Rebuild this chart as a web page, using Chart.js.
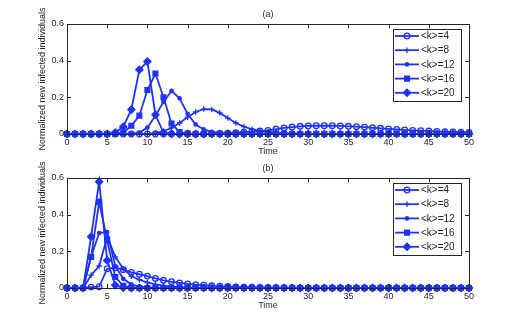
<!DOCTYPE html>
<html>
<head>
<meta charset="utf-8">
<script src="https://cdn.jsdelivr.net/npm/chart.js@4.4.0/dist/chart.umd.min.js"></script>
<style>
  html, body { margin: 0; padding: 0; background: #fff; }
  .panel { position: absolute; left: 0; width: 518px; height: 162px; }
  #panelA { top: 0; }
  #panelB { top: 154px; }
</style>
</head>
<body>
<div class="panel" id="panelA"><canvas id="chartA"></canvas></div>
<div class="panel" id="panelB"><canvas id="chartB"></canvas></div>
<script>
// time axis (x values)
const timeSteps = [0,1,2,3,4,5,6,7,8,9,10,11,12,13,14,15,16,17,18,19,20,21,22,23,24,25,
  26,27,28,29,30,31,32,33,34,35,36,37,38,39,40,41,42,43,44,45,46,47,48,49,50];
const xTickValues = [0,5,10,15,20,25,30,35,40,45,50];
const yTickValues = [0,0.2,0.4,0.6];
const seriesLabels = ['<k>=4', '<k>=8', '<k>=12', '<k>=16', '<k>=20'];

// panel (a)
const a_k4 = [0,0,0,0,0,0,0,0,0,0, 0,0,0,0,0,0,0,0,0.002,0.003,
  0.005,0.007,0.01,0.013,0.016,0.02,0.027,0.033,0.038,0.042,
  0.044,0.045,0.045,0.045,0.044,0.042,0.04,0.037,0.034,0.031,
  0.028,0.025,0.022,0.02,0.018,0.016,0.014,0.012,0.011,0.01, 0.009];
const a_k8 = [0,0,0,0,0,0,0,0,0,0, 0,0.005,0.015,0.033,0.06,0.092,0.12,0.136,0.134,0.115,
  0.087,0.06,0.04,0.026,0.017,0.011,0.007,0.004,0.003,0.002,
  0.001,0,0,0,0,0,0,0,0,0, 0,0,0,0,0,0,0,0,0,0, 0];
const a_k12 = [0,0,0,0,0,0,0,0,0,0.008, 0.035,0.1,0.175,0.235,0.195,0.11,0.052,0.025,0.012,0.006,
  0.003,0.001,0,0,0,0,0,0,0,0, 0,0,0,0,0,0,0,0,0,0, 0,0,0,0,0,0,0,0,0,0, 0];
const a_k16 = [0,0,0,0,0,0,0,0.008,0.045,0.1, 0.24,0.33,0.2,0.057,0.01,0.002,0,0,0,0,
  0,0,0,0,0,0,0,0,0,0, 0,0,0,0,0,0,0,0,0,0, 0,0,0,0,0,0,0,0,0,0, 0];
const a_k20 = [0,0,0,0,0,0,0.008,0.04,0.133,0.35, 0.395,0.105,0.007,0.001,0,0,0,0,0,0,
  0,0,0,0,0,0,0,0,0,0, 0,0,0,0,0,0,0,0,0,0, 0,0,0,0,0,0,0,0,0,0, 0];

// panel (b)
const b_k4 = [0,0,0,0.005,0.007,0.105,0.11,0.1,0.085,0.075, 0.065,0.052,0.042,0.034,0.028,0.022,0.018,0.015,0.012,0.01,
  0.008,0.006,0.005,0.004,0.003,0.002,0.002,0.001,0.001,0, 0,0,0,0,0,0,0,0,0,0, 0,0,0,0,0,0,0,0,0,0, 0];
const b_k8 = [0,0,0,0.07,0.12,0.28,0.17,0.105,0.065,0.045, 0.03,0.02,0.013,0.008,0.005,0.003,0.002,0.001,0,0,
  0,0,0,0,0,0,0,0,0,0, 0,0,0,0,0,0,0,0,0,0, 0,0,0,0,0,0,0,0,0,0, 0];
const b_k12 = [0,0,0,0.17,0.3,0.305,0.12,0.05,0.02,0.008, 0.003,0.001,0,0,0,0,0,0,0,0,
  0,0,0,0,0,0,0,0,0,0, 0,0,0,0,0,0,0,0,0,0, 0,0,0,0,0,0,0,0,0,0, 0];
const b_k16 = [0,0,0,0.17,0.47,0.26,0.06,0.012,0.002,0, 0,0,0,0,0,0,0,0,0,0,
  0,0,0,0,0,0,0,0,0,0, 0,0,0,0,0,0,0,0,0,0, 0,0,0,0,0,0,0,0,0,0, 0];
const b_k20 = [0,0,0,0.28,0.58,0.15,0.015,0.001,0,0, 0,0,0,0,0,0,0,0,0,0,
  0,0,0,0,0,0,0,0,0,0, 0,0,0,0,0,0,0,0,0,0, 0,0,0,0,0,0,0,0,0,0, 0];

const blue = 'rgb(30,50,255)';
const ink = '#262626';
const fontFamily = '"Liberation Sans", Arial, Helvetica, sans-serif';

const markers = [
  { style: 'circle', radius: 2.8, filled: false },
  { style: 'cross', radius: 2.8, filled: true },
  { style: 'circle', radius: 1.7, filled: true },
  { style: 'rect', radius: 3.4, filled: true },
  { style: 'rectRot', radius: 3.6, filled: true },
];

function drawMarker(ctx, m, x, y) {
  ctx.save();
  ctx.strokeStyle = blue;
  ctx.fillStyle = blue;
  ctx.lineWidth = 1.3;
  ctx.beginPath();
  if (m.style === 'circle') {
    ctx.arc(x, y, m.radius, 0, Math.PI * 2);
    if (m.filled) ctx.fill();
    ctx.stroke();
  } else if (m.style === 'cross') {
    ctx.moveTo(x - m.radius, y); ctx.lineTo(x + m.radius, y);
    ctx.moveTo(x, y - m.radius); ctx.lineTo(x, y + m.radius);
    ctx.stroke();
  } else if (m.style === 'rect') {
    const s = m.radius * Math.SQRT1_2;
    ctx.rect(x - s, y - s, 2 * s, 2 * s);
    ctx.fill(); ctx.stroke();
  } else {
    const r = m.radius;
    ctx.moveTo(x - r, y); ctx.lineTo(x, y - r); ctx.lineTo(x + r, y); ctx.lineTo(x, y + r);
    ctx.closePath();
    ctx.fill(); ctx.stroke();
  }
  ctx.restore();
}

// frame, inward ticks, titles and the legend box (matlab look)
const matlabFrame = {
  id: 'matlabFrame',
  afterDraw(chart, args, opts) {
    const { ctx, chartArea: a } = chart;
    const xs = chart.scales.x, ys = chart.scales.y;
    ctx.save();
    ctx.strokeStyle = ink;
    ctx.lineWidth = 1;
    ctx.strokeRect(Math.round(a.left) + 0.5, Math.round(a.top) + 0.5,
      Math.round(a.right - a.left), Math.round(a.bottom - a.top));
    ctx.beginPath();
    xTickValues.forEach(v => {
      const px = Math.round(xs.getPixelForValue(v)) + 0.5;
      ctx.moveTo(px, a.bottom); ctx.lineTo(px, a.bottom - 4);
      ctx.moveTo(px, a.top); ctx.lineTo(px, a.top + 4);
    });
    yTickValues.forEach(v => {
      const py = Math.round(ys.getPixelForValue(v)) + 0.5;
      ctx.moveTo(a.left, py); ctx.lineTo(a.left + 4, py);
      ctx.moveTo(a.right, py); ctx.lineTo(a.right - 4, py);
    });
    ctx.stroke();

    // titles
    ctx.fillStyle = ink;
    ctx.font = '9px ' + fontFamily;
    ctx.textAlign = 'center';
    ctx.textBaseline = 'middle';
    ctx.fillText(opts.title, (a.left + a.right) / 2, a.top - 9);
    ctx.fillText('Time', (a.left + a.right) / 2, a.bottom + 18);
    ctx.save();
    ctx.translate(43, (a.top + a.bottom) / 2);
    ctx.rotate(-Math.PI / 2);
    ctx.fillText('Normalized new infected individuals', 0, 0);
    ctx.restore();

    // legend
    const bx = a.right - 76, by = a.top + 5, bw = 68, bh = 72;
    ctx.fillStyle = '#fff';
    ctx.fillRect(bx, by, bw, bh);
    ctx.strokeStyle = ink;
    ctx.strokeRect(Math.round(bx) + 0.5, Math.round(by) + 0.5, bw, bh);
    ctx.font = '10px ' + fontFamily;
    ctx.textAlign = 'left';
    chart.data.datasets.forEach((ds, i) => {
      const y = by + 7 + i * 14.2;
      ctx.strokeStyle = blue;
      ctx.lineWidth = 1.8;
      ctx.beginPath();
      ctx.moveTo(bx + 2, y); ctx.lineTo(bx + 26, y);
      ctx.stroke();
      drawMarker(ctx, markers[i], bx + 14, y);
      ctx.fillStyle = ink;
      ctx.fillText(ds.label, bx + 28, y + 0.5);
    });
    ctx.restore();
  }
};

function makeChart(canvasId, title, seriesList) {
  const datasets = seriesList.map((vals, i) => ({
    label: seriesLabels[i],
    data: timeSteps.map((t, j) => ({ x: t, y: vals[j] })),
    borderColor: blue,
    borderWidth: 1.8,
    pointStyle: markers[i].style,
    pointRadius: markers[i].radius,
    pointBorderWidth: 1.3,
    pointBorderColor: blue,
    pointBackgroundColor: markers[i].filled ? blue : 'rgba(0,0,0,0)',
    tension: 0,
    clip: false,
  }));

  return new Chart(document.getElementById(canvasId), {
    type: 'line',
    data: { datasets },
    options: {
      responsive: true,
      maintainAspectRatio: false,
      animation: false,
      layout: { padding: { left: 0, right: 49, top: 24, bottom: 0 } },
      plugins: {
        legend: { display: false },
        tooltip: { enabled: false },
        matlabFrame: { title },
      },
      scales: {
        x: {
          type: 'linear', min: 0, max: 50,
          afterBuildTicks: s => { s.ticks = xTickValues.map(v => ({ value: v })); },
          afterFit: s => { s.height = 28; },
          grid: { display: false, drawTicks: false },
          border: { display: false },
          ticks: { padding: 3, color: ink, font: { size: 9, family: fontFamily }, maxRotation: 0 },
        },
        y: {
          type: 'linear', min: 0, max: 0.6,
          afterBuildTicks: s => { s.ticks = yTickValues.map(v => ({ value: v })); },
          afterFit: s => { s.width = 67; },
          grid: { display: false, drawTicks: false },
          border: { display: false },
          ticks: {
            padding: 3, color: ink, font: { size: 9, family: fontFamily },
            callback: v => (v === 0 ? '0' : v.toFixed(1)),
          },
        },
      },
    },
    plugins: [matlabFrame],
  });
}

makeChart('chartA', '(a)', [a_k4, a_k8, a_k12, a_k16, a_k20]);
makeChart('chartB', '(b)', [b_k4, b_k8, b_k12, b_k16, b_k20]);
</script>
</body>
</html>
